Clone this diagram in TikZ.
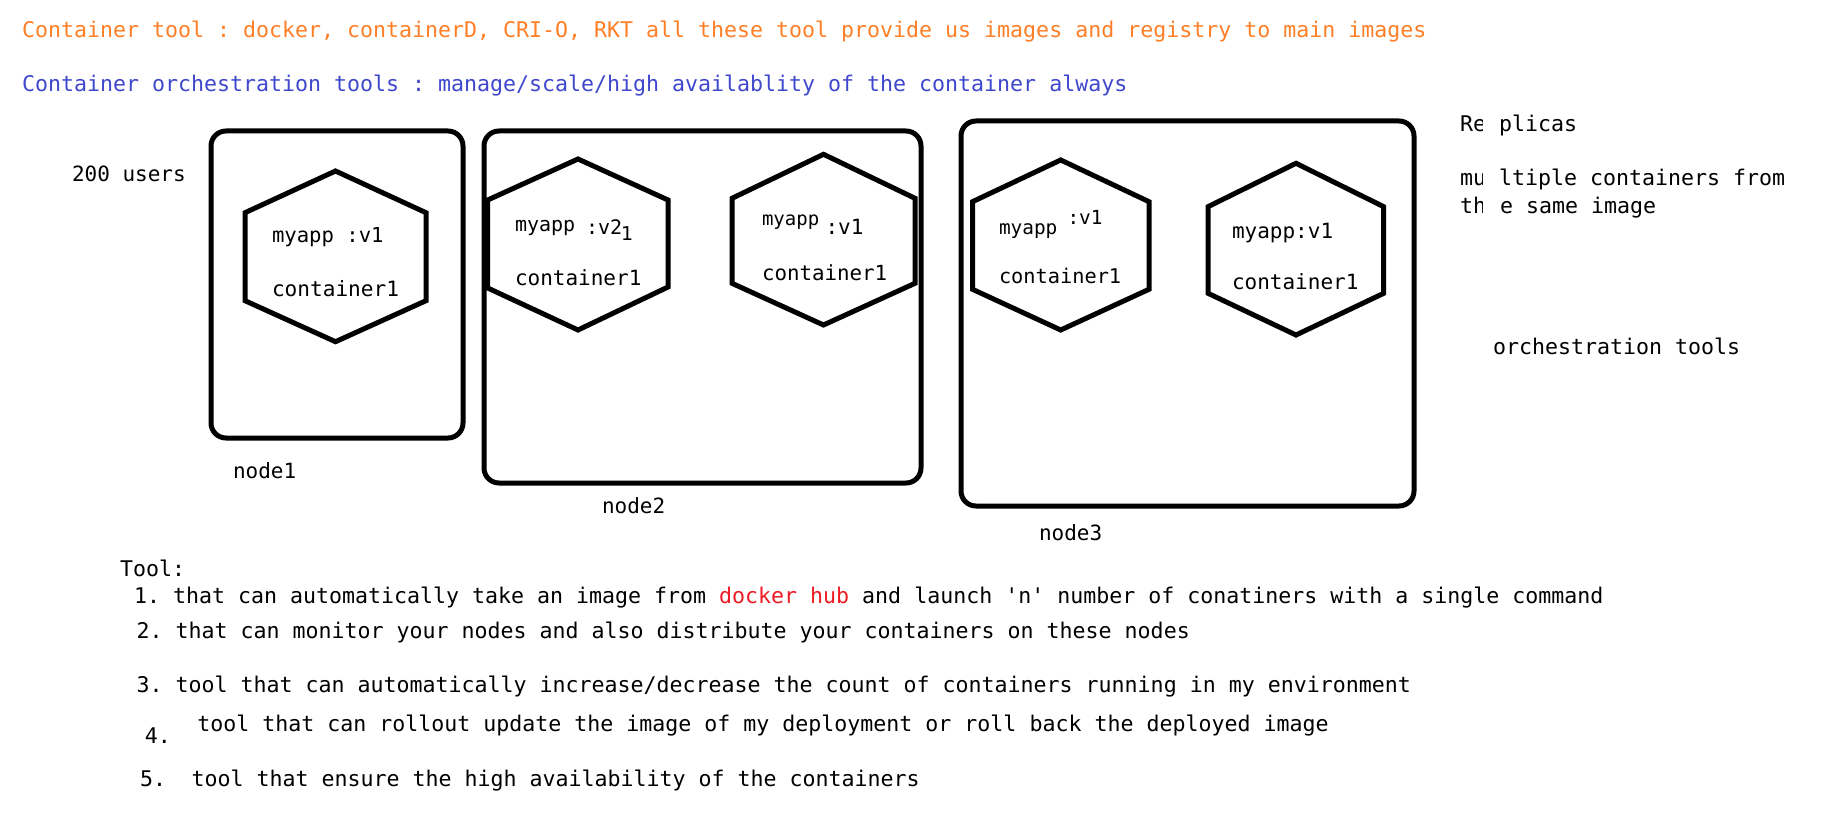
\documentclass[tikz,border=0pt]{standalone}
\usepackage{fontspec}
\setmonofont{DejaVu Sans Mono}
\newfontfamily\dvsans{DejaVu Sans}
\definecolor{paintorange}{RGB}{255,127,39}
\definecolor{paintblue}{RGB}{63,72,204}
\definecolor{paintred}{RGB}{237,28,36}
\begin{document}
\begin{tikzpicture}[x=1pt,y=-1pt,
  txt/.style={anchor=base west, inner sep=0pt, outer sep=0pt, font=\ttfamily\fontsize{#1}{#1}\selectfont},
  txt/.default=21.6,
  nodebox/.style={draw, line width=5pt, rounded corners=15pt},
  hexline/.style={draw, line width=5pt, line join=miter}]
\fill[white] (0,0) rectangle (1829,821);
\useasboundingbox (0,0) rectangle (1829,821);

% header lines
\node[txt, text=paintorange] (l1) at (22,38) {Container tool : docker, containerD, CRI-O, RKT all these tool provide us images and registry to main images};
\node[txt, text=paintblue] (l2) at (22,92) {Container orchestration tools : manage/scale/high availablity of the container always};

\node[txt=21] (users) at (72,182) {200 users};

% machine boxes
\draw[nodebox] (211,131) rectangle (463,438);
\draw[nodebox] (484,131) rectangle (921,483);
\draw[nodebox] (961,121) rectangle (1414,506);

% hexagons
\draw[hexline] (335.5,171) -- (426,212.7) -- (426,300.7) -- (335.5,341.7) -- (245,300.7) -- (245,212.7) -- cycle;
\draw[hexline] (578,159) -- (668,200) -- (668,287) -- (578,330) -- (487.7,288) -- (487.7,200) -- cycle;
\draw[hexline] (823.5,154.3) -- (915,198.3) -- (915,283.3) -- (823.5,325) -- (732,283.3) -- (732,198.3) -- cycle;
\draw[hexline] (1060.7,160) -- (1149,201.7) -- (1149,289.3) -- (1060.7,330) -- (972.5,289.3) -- (972.5,201.7) -- cycle;
\draw[hexline] (1296,163.3) -- (1383.7,206.7) -- (1383.7,293.3) -- (1296,335) -- (1208,293.3) -- (1208,206.7) -- cycle;

% hexagon texts
\node[txt=20.6] (h1a) at (272,243) {myapp :v1};
\node[txt=21.1] (h1b) at (272,296.5) {container1};

\node[txt=20] (h2a) at (515,231.5) {myapp};
\node[txt=20] (h2b) at (586,235) {:v2};
\node[anchor=base west, inner sep=0pt, font=\dvsans\fontsize{19}{19}\selectfont] (h2c) at (621,240.7) {1};
\node[txt=21] (h2d) at (515,285) {container1};

\node[txt=19] (h3a) at (762,226) {myapp};
\node[txt=21] (h3b) at (825.5,235) {:v1};
\node[txt=20.8] (h3c) at (762,280) {container1};

\node[txt=19.4] (h4a) at (999,235) {myapp};
\node[txt=19.4] (h4b) at (1067.5,225) {:v1};
\node[txt=20.3] (h4c) at (999,283.3) {container1};

\node[txt=21] (h5a) at (1232,238.3) {myapp:v1};
\node[txt=21] (h5b) at (1232,290) {container1};

% box labels
\node[txt=21] (n1) at (233,478) {node1};
\node[txt=21] (n2) at (602,513) {node2};
\node[txt=21] (n3) at (1039,540) {node3};

% right notes
\begin{scope}
  \clip (1440,100) rectangle (1482,225);
  \node[txt] (re) at (1460,131.5) {Re};
  \node[txt] (mu) at (1460,186) {mu};
  \node[txt] (th) at (1460,213.5) {th};
\end{scope}
\node[txt] (plicas) at (1499,131.5) {plicas};
\node[txt] (ltiple) at (1499,186) {ltiple containers from};
\node[txt] (esame) at (1500,213.5) {e same image};
\node[txt] (orch) at (1493,354) {orchestration tools};

% tool list
\node[txt] (tool) at (120,576.7) {Tool:};
\node[txt] (t1) at (134,603.3) {1. that can automatically take an image from \textcolor{paintred}{docker hub} and launch 'n' number of conatiners with a single command};
\node[txt] (t2) at (136.5,638.3) {2. that can monitor your nodes and also distribute your containers on these nodes};
\node[txt] (t3) at (136.5,692.7) {3. tool that can automatically increase/decrease the count of containers running in my environment};
\node[txt] (t4n) at (144.8,743.3) {4.};
\node[txt] (t4) at (197.3,731.7) {tool that can rollout update the image of my deployment or roll back the deployed image};
\node[txt] (t5n) at (140,786) {5.};
\node[txt] (t5) at (191.5,786) {tool that ensure the high availability of the containers};
\end{tikzpicture}
\end{document}
